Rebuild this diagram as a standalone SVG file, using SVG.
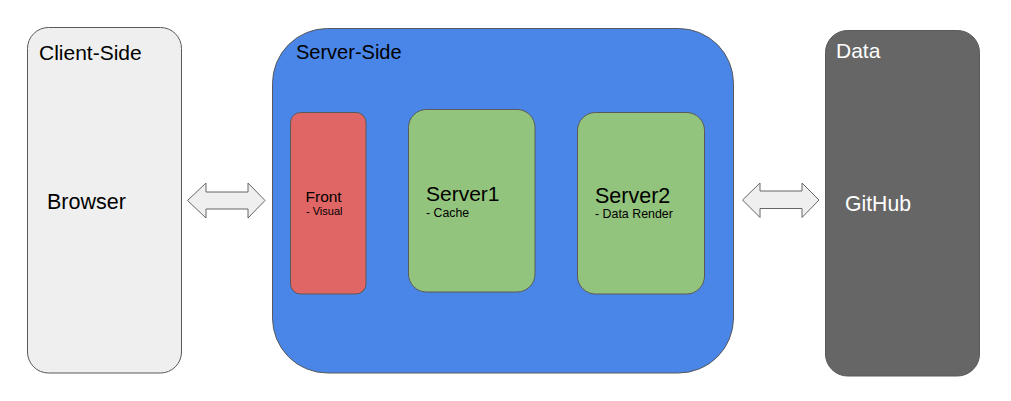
<svg xmlns="http://www.w3.org/2000/svg" width="1011" height="401" viewBox="0 0 1011 401">
<style>
text{font-family:"Liberation Sans",Arial,sans-serif;fill:#000}
.box{stroke:#595959;stroke-width:1}
.arrow{fill:#efefef;stroke:#666666;stroke-width:1;stroke-linejoin:miter}
.w{fill:#ffffff}
</style>
<rect width="1011" height="401" fill="#ffffff"/>
<g id="client">
<rect class="box" x="27.5" y="27.5" width="154" height="345.5" rx="21" fill="#efefef"/>
<text x="39" y="60" font-size="21">Client-Side</text>
<text x="47" y="209" font-size="21.5">Browser</text>
</g>
<g id="server-side">
<rect class="box" x="272.5" y="28.5" width="461" height="344.5" rx="55" fill="#4a86e8"/>
<text x="296" y="59" font-size="20">Server-Side</text>
</g>
<g id="front">
<rect class="box" x="290.5" y="112.5" width="75.5" height="181.5" rx="10" fill="#e06666"/>
<text x="305.5" y="202" font-size="15.5">Front</text>
<text x="306" y="215" font-size="11">- Visual</text>
</g>
<g id="server1">
<rect class="box" x="408.5" y="109.5" width="126.5" height="182.5" rx="18" fill="#93c47d"/>
<text x="426" y="200.5" font-size="21">Server1</text>
<text x="426" y="217" font-size="12.3">- Cache</text>
</g>
<g id="server2">
<rect class="box" x="577.5" y="112.5" width="127" height="181.5" rx="18" fill="#93c47d"/>
<text x="595" y="203" font-size="21.5">Server2</text>
<text x="595" y="218" font-size="12.4">- Data Render</text>
</g>
<g id="data">
<rect class="box" x="825.5" y="30.5" width="154" height="345.5" rx="22" fill="#666666"/>
<text class="w" x="836" y="58" font-size="21">Data</text>
<text class="w" x="845" y="211" font-size="21.2">GitHub</text>
</g>
<g id="connectors">
<polygon class="arrow" points="187.5,200.5 206,183 206,192 248,192 248,183 265,200.5 248,218 248,209 206,209 206,218"/>
<polygon class="arrow" points="742.5,200 760,183 760,191 802,191 802,183 819,200 802,217.5 802,208.5 760,208.5 760,217.5"/>
</g>
</svg>
